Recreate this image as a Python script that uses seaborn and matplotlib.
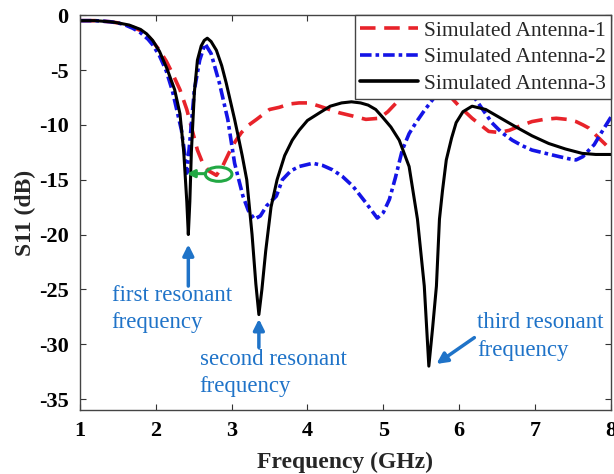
import matplotlib
matplotlib.use('Agg')
import matplotlib.pyplot as plt
from matplotlib.patches import Ellipse
import pandas as pd
import seaborn as sns

# S11 curves (frequency in GHz, S11 in dB)
freq_ant1 = [1.0, 1.2, 1.4, 1.5, 1.6, 1.7, 1.8, 1.9, 1.96, 2.05, 2.14, 2.22, 2.32, 2.41, 2.47,
             2.55, 2.62, 2.70, 2.80, 2.88, 2.97, 3.05, 3.13, 3.23, 3.33, 3.50, 3.63, 3.76, 3.89,
             4.02, 4.16, 4.29, 4.42, 4.60, 4.77, 4.95, 5.06, 5.17, 5.30, 5.45, 5.60, 5.75, 5.88,
             6.00, 6.17, 6.39, 6.53, 6.66, 6.80, 6.96, 7.12, 7.28, 7.42, 7.54, 7.63, 7.71, 7.84,
             7.93, 8.0]
s11_ant1 = [-0.5, -0.5, -0.6, -0.7, -0.9, -1.1, -1.4, -1.9, -2.4, -3.2, -4.2, -5.3, -6.8, -8.6, -10.2,
            -12.3, -13.5, -14.2, -14.6, -13.8, -12.5, -11.5, -10.7, -10.0, -9.5, -8.6, -8.4, -8.1, -8.0,
            -8.0, -8.3, -8.6, -8.9, -9.2, -9.5, -9.4, -8.8, -8.0, -7.3, -6.8, -6.6, -6.8, -7.4,
            -8.3, -9.4, -10.6, -10.7, -10.5, -10.1, -9.7, -9.5, -9.4, -9.5, -9.7, -10.0, -10.3, -11.2,
            -11.8, -12.3]

freq_ant2 = [1.0, 1.2, 1.4, 1.5, 1.6, 1.7, 1.8, 1.9, 1.96, 2.05, 2.14, 2.22, 2.27, 2.34, 2.38,
             2.41, 2.45, 2.51, 2.58, 2.65, 2.73, 2.84, 2.95, 3.04, 3.15, 3.22, 3.30, 3.38, 3.46,
             3.59, 3.67, 3.78, 3.89, 4.07, 4.20, 4.33, 4.46, 4.60, 4.77, 4.92, 5.00, 5.08, 5.16,
             5.25, 5.34, 5.43, 5.54, 5.65, 5.80, 5.95, 6.10, 6.22, 6.33, 6.43, 6.56, 6.70, 6.83,
             6.96, 7.14, 7.32, 7.45, 7.54, 7.63, 7.71, 7.78, 7.84, 7.91, 8.0]
s11_ant2 = [-0.5, -0.5, -0.6, -0.7, -0.9, -1.2, -1.6, -2.2, -2.7, -3.7, -5.1, -6.9, -8.4, -10.5, -12.5,
            -14.4, -11.5, -6.8, -4.1, -2.6, -3.5, -6.2, -9.5, -13.5, -16.5, -17.8, -18.6, -18.3, -17.4,
            -16.5, -15.0, -14.2, -13.8, -13.5, -13.7, -14.1, -14.7, -15.6, -17.1, -18.5, -18.0, -16.8, -14.8,
            -12.3, -10.8, -9.8, -8.7, -7.7, -6.3, -5.8, -6.5, -7.7, -8.8, -9.8, -10.7, -11.4, -11.9,
            -12.3, -12.6, -12.9, -13.1, -13.2, -12.9, -12.3, -11.8, -11.1, -10.3, -9.3]

freq_ant3 = [1.0, 1.2, 1.4, 1.5, 1.65, 1.8, 1.88, 1.96, 2.05, 2.15, 2.25, 2.32, 2.37, 2.41, 2.43,
             2.45, 2.47, 2.51, 2.55, 2.60, 2.64, 2.68, 2.73, 2.80, 2.87, 2.93, 3.04, 3.08, 3.14,
             3.20, 3.27, 3.32, 3.36, 3.40, 3.45, 3.52, 3.60, 3.70, 3.80, 3.89, 4.00, 4.16, 4.30,
             4.45, 4.58, 4.70, 4.80, 4.90, 4.99, 5.10, 5.21, 5.34, 5.45, 5.54, 5.60, 5.65, 5.70,
             5.74, 5.78, 5.83, 5.90, 5.96, 6.05, 6.17, 6.35, 6.55, 6.75, 6.96, 7.18, 7.40, 7.62,
             7.80, 8.0]
s11_ant3 = [-0.5, -0.5, -0.6, -0.7, -0.9, -1.3, -1.7, -2.3, -3.3, -4.9, -6.8, -9.0, -12.5, -17.0, -20.0,
            -17.0, -12.5, -7.0, -4.1, -2.8, -2.3, -2.1, -2.4, -3.2, -4.6, -6.2, -9.5, -10.8, -12.8,
            -15.0, -20.0, -24.5, -27.3, -25.0, -21.5, -17.5, -15.0, -12.8, -11.4, -10.5, -9.6, -8.9, -8.3,
            -8.0, -7.9, -8.0, -8.2, -8.6, -9.3, -10.2, -11.4, -13.8, -18.6, -24.7, -32.0, -28.5, -24.7,
            -18.6, -16.0, -13.2, -11.2, -9.8, -8.8, -8.3, -8.6, -9.4, -10.2, -11.0, -11.7, -12.2, -12.6,
            -12.7, -12.7]

series_names = ['Simulated Antenna-1', 'Simulated Antenna-2', 'Simulated Antenna-3']
x_ticks = [1, 2, 3, 4, 5, 6, 7, 8]
y_ticks = [0, -5, -10, -15, -20, -25, -30, -35]

sns.set_style('ticks')
plt.rcParams['font.family'] = ['Liberation Serif', 'DejaVu Serif']
plt.rcParams['axes.unicode_minus'] = False

fig = plt.figure(figsize=(6.14, 4.74), dpi=100)
ax = fig.add_axes([0.130, 0.135, 0.865, 0.833])

df1 = pd.DataFrame({'f': freq_ant1, 's11': s11_ant1})
df2 = pd.DataFrame({'f': freq_ant2, 's11': s11_ant2})
df3 = pd.DataFrame({'f': freq_ant3, 's11': s11_ant3})

sns.lineplot(data=df1, x='f', y='s11', ax=ax, color='#e8232a', lw=2.6,
             label=series_names[0], sort=False)
sns.lineplot(data=df2, x='f', y='s11', ax=ax, color='#1414e6', lw=2.6,
             label=series_names[1], sort=False)
sns.lineplot(data=df3, x='f', y='s11', ax=ax, color='black', lw=2.2,
             label=series_names[2], sort=False)
ax.lines[0].set_dashes([4.3, 2.4])
ax.lines[1].set_dashes([3.2, 1.1, 1.0, 1.1])

ax.set_xlim(1, 8)
ax.set_ylim(-36, 0)
ax.set_xticks(x_ticks)
ax.set_yticks(y_ticks)
ax.set_xticklabels([str(t) for t in x_ticks], fontsize=16, fontweight='bold')
ax.set_yticklabels([str(t) for t in y_ticks], fontsize=16, fontweight='bold')
ax.tick_params(direction='in', top=True, right=True, length=4, width=0.8, pad=8, colors='#333333')
for lbl in ax.get_xticklabels() + ax.get_yticklabels():
    lbl.set_color('black')
for sp in ax.spines.values():
    sp.set_color('#444444')
    sp.set_linewidth(1.0)

ax.set_xlabel('Frequency (GHz)', fontsize=17, fontweight='bold', labelpad=8)
ax.set_ylabel('S11 (dB)', fontsize=17, fontweight='bold', labelpad=2)

leg = ax.legend(loc='upper right', fontsize=15.5, frameon=True, fancybox=False, framealpha=1,
                borderaxespad=0, handlelength=2.7, handletextpad=0.25,
                labelspacing=0.3, borderpad=0.25)
leg.get_frame().set_edgecolor('#444444')
leg.get_frame().set_linewidth(1.0)
for h in leg.get_lines():
    h.set_linewidth(2.6)
leg.get_lines()[0].set_dashes([4.3, 2.4])
leg.get_lines()[1].set_dashes([3.2, 1.1, 1.0, 1.1])

note_color = '#1f73c8'
ax.annotate('', xy=(2.43, -20.9), xytext=(2.43, -24.7),
            arrowprops=dict(arrowstyle='-|>', color=note_color, lw=2.5, mutation_scale=16,
                            shrinkA=0, shrinkB=0))
ax.annotate('', xy=(3.36, -27.7), xytext=(3.36, -30.3),
            arrowprops=dict(arrowstyle='-|>', color=note_color, lw=2.5, mutation_scale=16,
                            shrinkA=0, shrinkB=0))
ax.annotate('', xy=(5.70, -31.8), xytext=(6.20, -29.4),
            arrowprops=dict(arrowstyle='-|>', color=note_color, lw=2.5, mutation_scale=16,
                            shrinkA=0, shrinkB=0))
ax.text(1.42, -26.8, 'first resonant\nfrequency', color=note_color, fontsize=16.5,
        ha='left', va='center', linespacing=1.4)
ax.text(2.58, -32.6, 'second resonant\nfrequency', color=note_color, fontsize=16.5,
        ha='left', va='center', linespacing=1.4)
ax.text(6.24, -29.3, 'third resonant\nfrequency', color=note_color, fontsize=16.5,
        ha='left', va='center', linespacing=1.4)

green = '#22a844'
ax.add_patch(Ellipse((2.83, -14.5), 0.35, 1.3, fill=False, edgecolor=green, lw=2.2, zorder=5))
ax.annotate('', xy=(2.41, -14.45), xytext=(2.655, -14.45),
            arrowprops=dict(arrowstyle='-|>', color=green, lw=2.2, mutation_scale=11,
                            shrinkA=0, shrinkB=0), zorder=5)

fig.savefig('out.png', dpi=100)
